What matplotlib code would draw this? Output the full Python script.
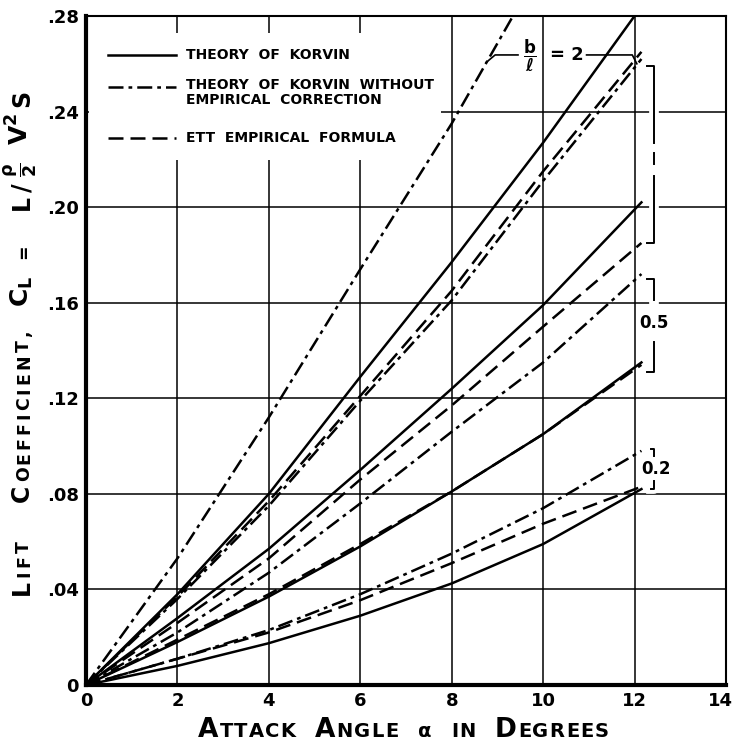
import matplotlib
matplotlib.use("Agg")
import matplotlib.pyplot as plt
import matplotlib.patheffects as pe
from matplotlib.patches import Rectangle
from matplotlib.transforms import IdentityTransform, ScaledTranslation

plt.rcParams["font.family"] = ["DejaVu Sans"]
plt.rcParams["font.weight"] = "bold"
plt.rcParams["mathtext.default"] = "bf"

# attack angle (deg) at which the curves were read
angle = [0, 2, 4, 6, 8, 10, 12.15]
angle_steep = [0, 2, 4, 6, 8, 9.4]

# theory of Korvin (solid), b/l = 2, 1, 0.5, 0.2
korvin_2 = [0, 0.038, 0.080, 0.129, 0.177, 0.227, 0.284]
korvin_1 = [0, 0.028, 0.057, 0.090, 0.124, 0.159, 0.202]
korvin_05 = [0, 0.018, 0.037, 0.058, 0.081, 0.105, 0.135]
korvin_02 = [0, 0.008, 0.0175, 0.029, 0.0425, 0.059, 0.082]

# theory of Korvin without empirical correction (dash-dot)
raw_2 = [0, 0.053, 0.112, 0.174, 0.235, 0.282]
raw_1 = [0, 0.036, 0.075, 0.119, 0.161, 0.211, 0.262]
raw_05 = [0, 0.022, 0.047, 0.076, 0.106, 0.135, 0.172]
raw_02 = [0, 0.011, 0.023, 0.038, 0.055, 0.074, 0.098]

# ETT empirical formula (dashed)
ett_2 = [0, 0.037, 0.077, 0.121, 0.165, 0.215, 0.265]
ett_1 = [0, 0.026, 0.053, 0.086, 0.117, 0.150, 0.185]
ett_05 = [0, 0.019, 0.038, 0.059, 0.081, 0.105, 0.134]
ett_02 = [0, 0.011, 0.022, 0.0355, 0.051, 0.0675, 0.083]

x_ticks = [0, 2, 4, 6, 8, 10, 12, 14]
y_ticks = [0, 0.04, 0.08, 0.12, 0.16, 0.20, 0.24, 0.28]
y_ticklabels = ["0", ".04", ".08", ".12", ".16", ".20", ".24", ".28"]

LW = 1.8
DASHED = (0, (6, 2.8))
DASHDOT = (0, (6, 2, 1.5, 2))

fig = plt.figure(figsize=(7.35, 7.43), dpi=100)
ax = fig.add_axes([86 / 735, 1 - 685 / 743, 640 / 735, 669 / 743])
ax.set_xlim(0, 14)
ax.set_ylim(0, 0.28)
ax.set_axisbelow(True)
ax.grid(True, color="black", linewidth=1.1)
ax.set_xticks(x_ticks)
ax.set_yticks(y_ticks)
ax.set_yticklabels(y_ticklabels)
ax.tick_params(length=0, labelsize=13, pad=5)
for s in ["left", "bottom"]:
    ax.spines[s].set_linewidth(3)
for s in ["top", "right"]:
    ax.spines[s].set_linewidth(1.5)
# keep the "14" inside the picture
last = ax.xaxis.get_major_ticks()[-1].label1
last.set_transform(last.get_transform()
                   + ScaledTranslation(-4 / 72, 0, fig.dpi_scale_trans))

for ys in [korvin_2, korvin_1, korvin_05, korvin_02]:
    ax.plot(angle, ys, color="black", lw=LW, linestyle="-", zorder=3)
ax.plot(angle_steep, raw_2, color="black", lw=LW, linestyle=DASHDOT, zorder=3)
for ys in [raw_1, raw_05, raw_02]:
    ax.plot(angle, ys, color="black", lw=LW, linestyle=DASHDOT, zorder=3)
for ys in [ett_2, ett_1, ett_05, ett_02]:
    ax.plot(angle, ys, color="black", lw=LW, linestyle=DASHED, zorder=3)

# legend (white box hiding the grid)
ax.add_patch(Rectangle((0.004, 0.785), 0.55, 0.19, transform=ax.transAxes,
                       facecolor="white", edgecolor="none", zorder=1))
legend_rows = [
    ("-", 0.9417, "THEORY  OF  KORVIN"),
    (DASHDOT, 0.894, "THEORY  OF  KORVIN  WITHOUT\nEMPIRICAL  CORRECTION"),
    (DASHED, 0.8176, "ETT  EMPIRICAL  FORMULA"),
]
for ls, yy, label in legend_rows:
    ax.plot([0.034, 0.141], [yy, yy], transform=ax.transAxes, color="black",
            lw=LW, linestyle=ls, zorder=3)
    multi = "\n" in label
    ax.text(0.156, yy + 0.013 if multi else yy, label, transform=ax.transAxes,
            fontsize=10, fontweight="bold", va="top" if multi else "center",
            linespacing=1.05, zorder=3)

# b/l = 2 label with leader
ax.plot([8.75, 8.95, 9.45], [0.2605, 0.2637, 0.2637], color="black", lw=1.2)
ax.plot([10.95, 11.95, 12.05], [0.2637, 0.2637, 0.2600], color="black", lw=1.2)
ax.text(9.57, 0.2637, r"$\dfrac{b}{\ell}$", fontsize=12, va="center",
        ha="left")
ax.text(10.15, 0.2637, "= 2", fontsize=13, va="center", ha="left")

# brackets
halo = [pe.withStroke(linewidth=7, foreground="white")]
bracket_segments = [
    ([12.27, 12.42, 12.42], [0.259, 0.259, 0.227]),
    ([12.42, 12.42], [0.2225, 0.218]),
    ([12.42, 12.42, 12.27], [0.213, 0.185, 0.185]),
    ([12.27, 12.42, 12.42], [0.170, 0.170, 0.161]),
    ([12.42, 12.42, 12.27], [0.1435, 0.131, 0.131]),
    ([12.35, 12.42, 12.42], [0.0988, 0.0988, 0.0958]),
    ([12.42, 12.42, 12.35], [0.0854, 0.0821, 0.0821]),
]
for bx, by in bracket_segments:
    ax.plot(bx, by, color="black", lw=1.4, path_effects=halo, zorder=2)
ax.text(12.42, 0.1517, "0.5", fontsize=12, ha="center", va="center")
ax.text(12.47, 0.0904, "0.2", fontsize=12, ha="center", va="center")


def small_caps(pieces, center, base, rotation, track):
    """pieces: (text, size, split) or (None, gap_px)"""
    renderer = fig.canvas.get_renderer()
    items = []
    for p in pieces:
        if p[0] is None:
            items.append((None, p[1]))
            continue
        s, size, split = p
        parts = list(s) if split else [s]
        for ch in parts:
            t = fig.text(0, 0, ch, fontsize=size, fontweight="bold",
                         rotation=rotation, rotation_mode="anchor",
                         ha="left", va="baseline",
                         transform=IdentityTransform())
            bb = t.get_window_extent(renderer)
            adv = bb.width if rotation == 0 else bb.height
            items.append((t, adv + track))
    total = sum(a for _, a in items)
    pos = center - total / 2
    for t, adv in items:
        if t is not None:
            t.set_position((pos, base) if rotation == 0 else (base, pos))
        pos += adv


BX, SX = 19, 14
small_caps([("A", BX, True), ("TTACK", SX, True), (None, 18),
            ("A", BX, True), ("NGLE", SX, True), (None, 18),
            (r"$\alpha$", SX, False), (None, 18),
            ("IN", SX, True), (None, 18),
            ("D", BX, True), ("EGREES", SX, True)],
           center=404, base=743 - 737, rotation=0, track=1.2)

BY, SY = 17, 12.5
small_caps([("L", BY, True), ("IFT", SY, True), (None, 36),
            ("C", BY, True), ("OEFFICIENT,", SY, True), (None, 20),
            (r"$C_L$", 18, False), (None, 14),
            ("=", SY, False), (None, 32),
            ("L/", BY, True), (None, 3), (r"$\frac{\rho}{2}$", 18, False),
            (None, 14), (r"$V^2$", 18, False), (None, 3), ("S", BY, True)],
           center=743 - 341, base=29, rotation=90, track=3)

fig.savefig("out.png", dpi=100, facecolor="white")
